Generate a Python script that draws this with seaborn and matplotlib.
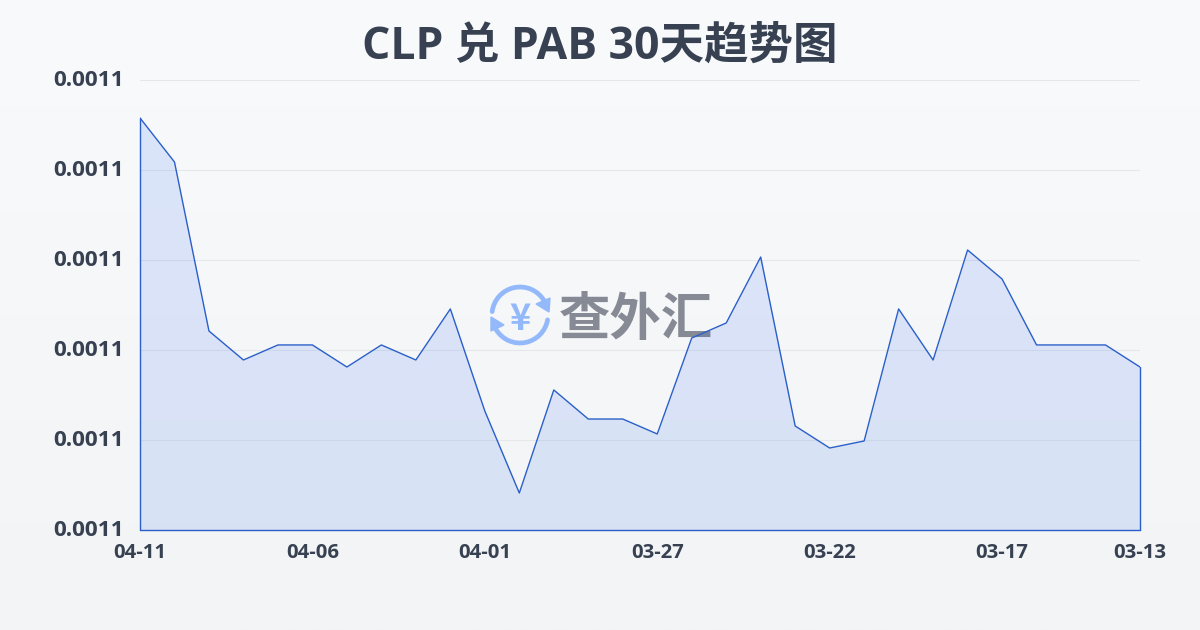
import numpy as np
import pandas as pd
import seaborn as sns
import matplotlib
matplotlib.use("Agg")
import matplotlib.pyplot as plt
from matplotlib.patches import Arc, Polygon
from matplotlib.transforms import ScaledTranslation

dates = ["04-11","04-10","04-09","04-08","04-07","04-06","04-05","04-04","04-03","04-02",
         "04-01","03-31","03-30","03-29","03-28","03-27","03-26","03-25","03-24","03-23",
         "03-22","03-21","03-20","03-19","03-18","03-17","03-16","03-15","03-14","03-13"]
rates = [0.00110578,0.00110089,0.00108211,0.00107889,0.00108056,0.00108056,0.00107811,0.00108056,
         0.00107889,0.00108456,0.00107322,0.00106411,0.00107556,0.00107233,0.00107233,0.00107067,
         0.00108133,0.00108300,0.00109033,0.00107156,0.00106911,0.00106989,0.00108456,0.00107889,
         0.00109111,0.00108789,0.00108056,0.00108056,0.00108056,0.00107811]
y_ticks = [0.00106,0.00107,0.00108,0.00109,0.00110,0.00111]
x_tick_labels = ["04-11","04-06","04-01","03-27","03-22","03-17","03-13"]
title = "CLP 兑 PAB 30天趋势图"
watermark = "查外汇"

sns.set_theme(style="white")
fonts = ["Open Sans", "Noto Sans CJK SC", "DejaVu Sans"]
plt.rcParams["font.family"] = fonts
TEXT = "#374151"
LINE = "#2a5fc9"
GRID = "#e5e7eb"
ICON = "#93b9fb"
W, H = 1200, 630

df = pd.DataFrame({"date": dates, "rate": rates})
df["pos"] = np.arange(len(df))

fig = plt.figure(figsize=(12, 6.3), dpi=100)

# background gradient
bg = fig.add_axes([0, 0, 1, 1], zorder=0)
grad = np.linspace(0, 1, 256)[:, None]
c0, c1 = np.array([248, 250, 252]) / 255, np.array([242, 244, 246]) / 255
bg.imshow((c0 + (c1 - c0) * grad[..., None]), aspect="auto", extent=[0, W, H, 0])
bg.set_xlim(0, W); bg.set_ylim(H, 0); bg.axis("off")

# watermark (under the chart)
bg.add_patch(Arc((520, 315), 56, 56, theta1=187, theta2=328, color=ICON, lw=3.4, capstyle="round"))
bg.add_patch(Arc((520, 315), 56, 56, theta1=10, theta2=148, color=ICON, lw=3.4, capstyle="round"))
bg.add_patch(Polygon([(550, 298), (549, 312), (536, 304)], color=ICON))
bg.add_patch(Polygon([(491, 317), (491, 331), (504, 325)], color=ICON))
bg.text(520, 315, "¥", ha="center", va="center_baseline", fontsize=26, fontweight="bold",
        color=ICON, family=["Noto Sans CJK SC", "DejaVu Sans"])
bg.text(636, 320, watermark, ha="center", va="center", fontsize=37, fontweight="bold",
        color="#858a94", family=["Noto Sans CJK SC", "DejaVu Sans"])

# chart
ax = fig.add_axes([140 / W, 1 - 530 / H, 1000 / W, 450 / H], zorder=1)
ax.patch.set_alpha(0)
ax.fill_between(df["pos"], df["rate"], y_ticks[0], color="#2563eb", alpha=0.13, lw=0, zorder=2)
sns.lineplot(data=df, x="pos", y="rate", ax=ax, color=LINE, lw=1.0, zorder=3)
ax.plot([0, 0], [y_ticks[0], rates[0]], color=LINE, lw=1.0, zorder=3, clip_on=False)
ax.plot([len(df) - 1] * 2, [y_ticks[0], rates[-1]], color=LINE, lw=1.0, zorder=3, clip_on=False)
ax.plot([0, len(df) - 1], [y_ticks[0]] * 2, color=LINE, lw=1.0, zorder=3, clip_on=False)

ax.set_xlim(0, len(df) - 1)
ax.set_ylim(y_ticks[0], y_ticks[-1])
ax.set_xlabel(""); ax.set_ylabel("")
ax.set_yticks(y_ticks)
ax.set_yticklabels([f"{v:.4f}" for v in y_ticks], fontsize=16.2, fontweight="bold", color=TEXT)
ax.set_xticks([dates.index(d) for d in x_tick_labels])
ax.set_xticklabels(x_tick_labels, fontsize=14.6, fontweight="bold", color=TEXT)
ax.grid(axis="y", color=GRID, lw=0.8, zorder=1)
ax.tick_params(axis="y", length=0, pad=11.7)
ax.tick_params(axis="x", length=5, width=0.8, color=GRID, pad=4.5)
up = ScaledTranslation(0, 1.5 / 100, fig.dpi_scale_trans)
for lab in ax.get_yticklabels():
    lab.set_transform(lab.get_transform() + up)
sns.despine(ax=ax, left=True, bottom=True, top=True, right=True)

fig.text(0.5, 1 - 47 / H, title, ha="center", va="center", fontsize=32, fontweight="bold",
         color=TEXT, family=fonts)

fig.savefig("out.png", dpi=100)
